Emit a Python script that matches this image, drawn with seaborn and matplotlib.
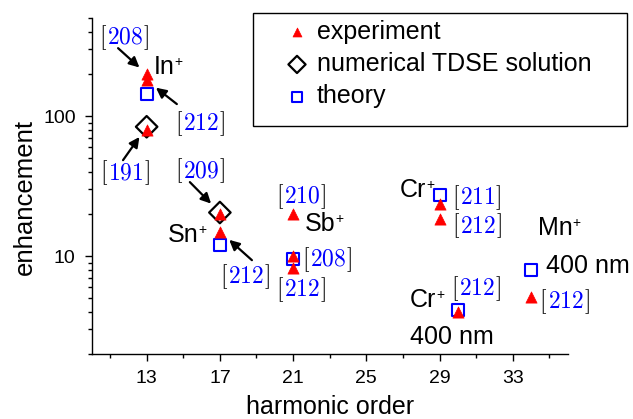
import seaborn as sns
import matplotlib.pyplot as plt
import numpy as np
import pandas as pd
from matplotlib.offsetbox import TextArea, HPacker, AnnotationBbox
from matplotlib.patches import Rectangle
from matplotlib.ticker import LogLocator, NullFormatter

# values
exp_order = [13, 13, 13, 17, 17, 21, 21, 21, 29, 29, 30, 34]
exp_enh = [200, 180, 80, 20, 15, 20, 10, 8.2, 23.5, 18.4, 4.0, 5.1]

tdse_order = [13, 17]
tdse_enh = [84, 20.5]

theory_order = [13, 17, 21, 29, 30, 34]
theory_enh = [145, 12, 9.6, 27.3, 4.1, 8]

series_labels = ["experiment", "numerical TDSE solution", "theory"]

x_ticks = [13, 17, 21, 25, 29, 33]
x_minor = [11, 15, 19, 23, 27, 31, 35]
y_ticks = [10, 100]
y_tick_labels = ["10", "100"]

# ion names, citation numbers
ion_texts = [(13.40, 199, "In"), (14.16, 12.6, "Sn"), (21.64, 15.1, "Sb"),
             (26.83, 26.4, "Cr"), (34.35, 14.1, "Mn"), (27.37, 4.33, "Cr")]
plain_texts = [(34.79, 7.57, "400 nm"), (27.37, 2.35, "400 nm")]
cites = [(11.76, 366, "208"), (15.91, 89, "212"), (11.82, 39.2, "191"),
         (15.91, 40.5, "209"), (18.37, 7.2, "212"), (21.42, 26.8, "210"),
         (22.84, 9.5, "208"), (21.42, 5.81, "212"), (31.02, 26.4, "211"),
         (31.02, 16.4, "212"), (35.82, 4.77, "212"), (30.96, 5.91, "212")]
# arrows: (series, point index, start x, start y, shrink in pt)
arrows = [("exp", 0, 11.44, 306, 7), ("exp", 1, 14.65, 122, 8.5),
          ("tdse", 0, 11.71, 48.5, 9), ("tdse", 1, 15.36, 33.8, 9),
          ("exp", 4, 18.75, 9.36, 9)]

sns.set_theme(style="ticks", rc={
    "axes.edgecolor": "black", "xtick.color": "black", "ytick.color": "black",
    "text.color": "black", "axes.labelcolor": "black", "axes.linewidth": 1.0,
})
plt.rcParams["font.family"] = ["Liberation Sans", "DejaVu Sans"]

fig = plt.figure(figsize=(6.33, 4.19), dpi=100)
ax = fig.add_axes([0.1449, 0.1551, 0.752, 0.8012])

exp_df = pd.DataFrame({"order": exp_order, "enh": exp_enh})
tdse_df = pd.DataFrame({"order": tdse_order, "enh": tdse_enh})
theory_df = pd.DataFrame({"order": theory_order, "enh": theory_enh})

sns.scatterplot(data=tdse_df, x="order", y="enh", marker="D", s=120,
                facecolor="none", edgecolor="black", linewidth=1.6, ax=ax)
sns.scatterplot(data=theory_df, x="order", y="enh", marker="s", s=75,
                facecolor="none", edgecolor="blue", linewidth=1.5, ax=ax)
sns.scatterplot(data=exp_df, x="order", y="enh", marker="^", s=65,
                color="red", edgecolor="red", linewidth=0.5, ax=ax)

h_tdse, h_theory, h_exp = ax.collections[:3]
series = {"exp": (exp_order, exp_enh), "tdse": (tdse_order, tdse_enh)}

ax.set_yscale("log")
ax.set_xlim(10, 36)
ax.set_ylim(2, 500)
ax.set_xticks(x_ticks)
ax.set_xticks(x_minor, minor=True)
ax.set_yticks(y_ticks)
ax.set_yticklabels(y_tick_labels)
ax.yaxis.set_minor_locator(LogLocator(base=10, subs=np.arange(2, 10), numticks=20))
ax.yaxis.set_minor_formatter(NullFormatter())
ax.tick_params(which="major", length=5, width=1, labelsize=14, pad=6.5)
ax.tick_params(which="minor", length=3, width=1)
sns.despine(ax=ax)

ax.set_xlabel("harmonic order", fontsize=18, labelpad=6)
ax.set_ylabel("enhancement", fontsize=18.5)
ax.yaxis.set_label_coords(-0.115, 0.468)


def ion(x, y, name):
    t = ax.text(x, y, name, fontsize=18, ha="left", va="baseline")
    ax.annotate("+", xy=(1, 1), xycoords=t, fontsize=10, ha="left", va="top")


def cite(x, y, num):
    props = dict(fontsize=17, math_fontfamily="cm")
    parts = [TextArea("$[$", textprops=dict(color="black", **props)),
             TextArea(f"${num}$", textprops=dict(color="blue", **props)),
             TextArea("$]$", textprops=dict(color="black", **props))]
    box = HPacker(children=parts, align="baseline", pad=0, sep=0)
    ab = AnnotationBbox(box, (x, y), xycoords="data", frameon=False, pad=0,
                        box_alignment=(0.5, 0.5), annotation_clip=False)
    ax.add_artist(ab)


for x, y, name in ion_texts:
    ion(x, y, name)
for x, y, s in plain_texts:
    ax.text(x, y, s, fontsize=18, ha="left", va="baseline")
for x, y, num in cites:
    cite(x, y, num)
for key, i, sx, sy, shrink in arrows:
    xs, ys = series[key]
    ax.annotate("", xy=(xs[i], ys[i]), xytext=(sx, sy),
                arrowprops=dict(arrowstyle="-|>", color="black", lw=1.6,
                                shrinkA=0, shrinkB=shrink, mutation_scale=15))

# legend with a wide frame like the original
fig.add_artist(Rectangle((253 / 633, 1 - 126 / 419), 374 / 633, 113 / 419,
                         transform=fig.transFigure, fill=False, lw=1, ec="black"))
ax.legend([h_exp, h_tdse, h_theory], series_labels, loc="upper left",
          bbox_to_anchor=(287 / 633, 1 - 19.5 / 419), bbox_transform=fig.transFigure,
          frameon=False, fontsize=18, borderpad=0, borderaxespad=0,
          handlelength=0.8, handletextpad=0.4, labelspacing=0.34, markerscale=0.8)

fig.savefig("out.png", dpi=100)
